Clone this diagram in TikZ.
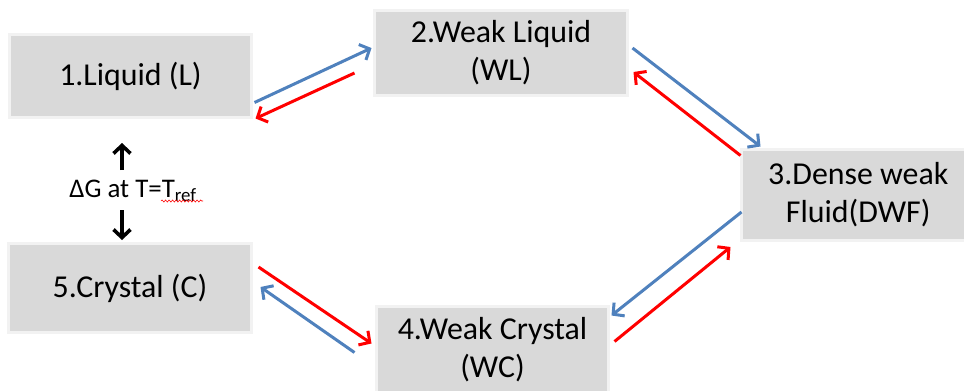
\documentclass[tikz,border=0pt]{standalone}
\usepackage{fontspec}
\setmainfont{Carlito}
\usetikzlibrary{arrows.meta,decorations.pathmorphing}
\definecolor{boxfill}{HTML}{D9D9D9}
\definecolor{boxedge}{HTML}{F2F2F2}
\definecolor{flowblue}{HTML}{4F81BD}
\definecolor{flowred}{HTML}{FF0000}
\tikzset{
  state/.style={draw=boxedge, line width=3bp, fill=boxfill, align=center,
    inner sep=0pt, font=\fontsize{32}{38}\selectfont},
  flow/.style={line width=3bp, -{Straight Barb[length=8bp,width=17bp]}},
  fwd/.style={flow, draw=flowblue},
  back/.style={flow, draw=flowred},
  gap/.style={line width=3.6bp, -{Straight Barb[length=8bp,width=17bp]}, draw=black},
}
\begin{document}
\begin{tikzpicture}[x=1bp,y=-1bp]
\useasboundingbox[fill=white] (0,0) rectangle (964,390);
\begin{scope}
\clip (0,0) rectangle (964,390);
\node[state, minimum width=242bp, minimum height=83bp] (L) at (130.5,76) {1.Liquid (L)};
\node[state, minimum width=253bp, minimum height=85bp] (WL) at (501,53) {2.Weak Liquid\\(WL)};
\node[state, minimum width=233.5bp, minimum height=91bp] (DWF) at (858.25,195) {3.Dense weak\\Fluid(DWF)};
\node[state, minimum width=232bp, minimum height=85.5bp] (WC) at (492.5,349.25) {4.Weak Crystal\\(WC)};
\node[state, minimum width=243bp, minimum height=89bp] (C) at (130,288) {5.Crystal (C)};
\end{scope}

% reference free-energy gap between liquid and crystal
\node[font=\fontsize{27}{30}\selectfont, inner sep=0pt] (G) at (133,191)
  {ΔG at T=T\textsubscript{ref}};
\draw[gap] ([shift={(-11,-21)}]G.center) -- ([shift={(-11,-48)}]G.center);
\draw[gap] ([shift={(-11,19)}]G.center) -- ([shift={(-11,49)}]G.center);
\draw[flowred, line width=0.6bp, decorate,
  decoration={snake, segment length=3.5bp, amplitude=1bp}]
  ([shift={(28,10)}]G.center) -- ([shift={(70,10)}]G.center);

% forward path (blue) and reverse path (red)
\draw[fwd]  ([shift={(1.5,-16.5)}]L.south east) -- ([shift={(-1.5,-5)}]WL.west);
\draw[back] ([shift={(-18.5,20)}]WL.west) -- ([shift={(2.5,-0.5)}]L.south east);

\draw[fwd]  ([shift={(3.5,-5)}]WL.east) -- ([shift={(20.5,-1.5)}]DWF.north west);
\draw[back] ([shift={(0.5,7.5)}]DWF.north west) -- ([shift={(4.5,19)}]WL.east);

\draw[fwd]  ([shift={(1.5,17)}]DWF.west) -- ([shift={(1.5,10.5)}]WC.north east);
\draw[back] ([shift={(4.5,36.5)}]WC.north east) -- ([shift={(-9.5,52)}]DWF.west);

\draw[back] ([shift={(5.5,-21)}]C.east) -- ([shift={(-3.5,38.5)}]WC.north west);
\draw[fwd]  ([shift={(-20.5,47.5)}]WC.north west) -- ([shift={(7.5,-1)}]C.east);
\end{tikzpicture}
\end{document}
